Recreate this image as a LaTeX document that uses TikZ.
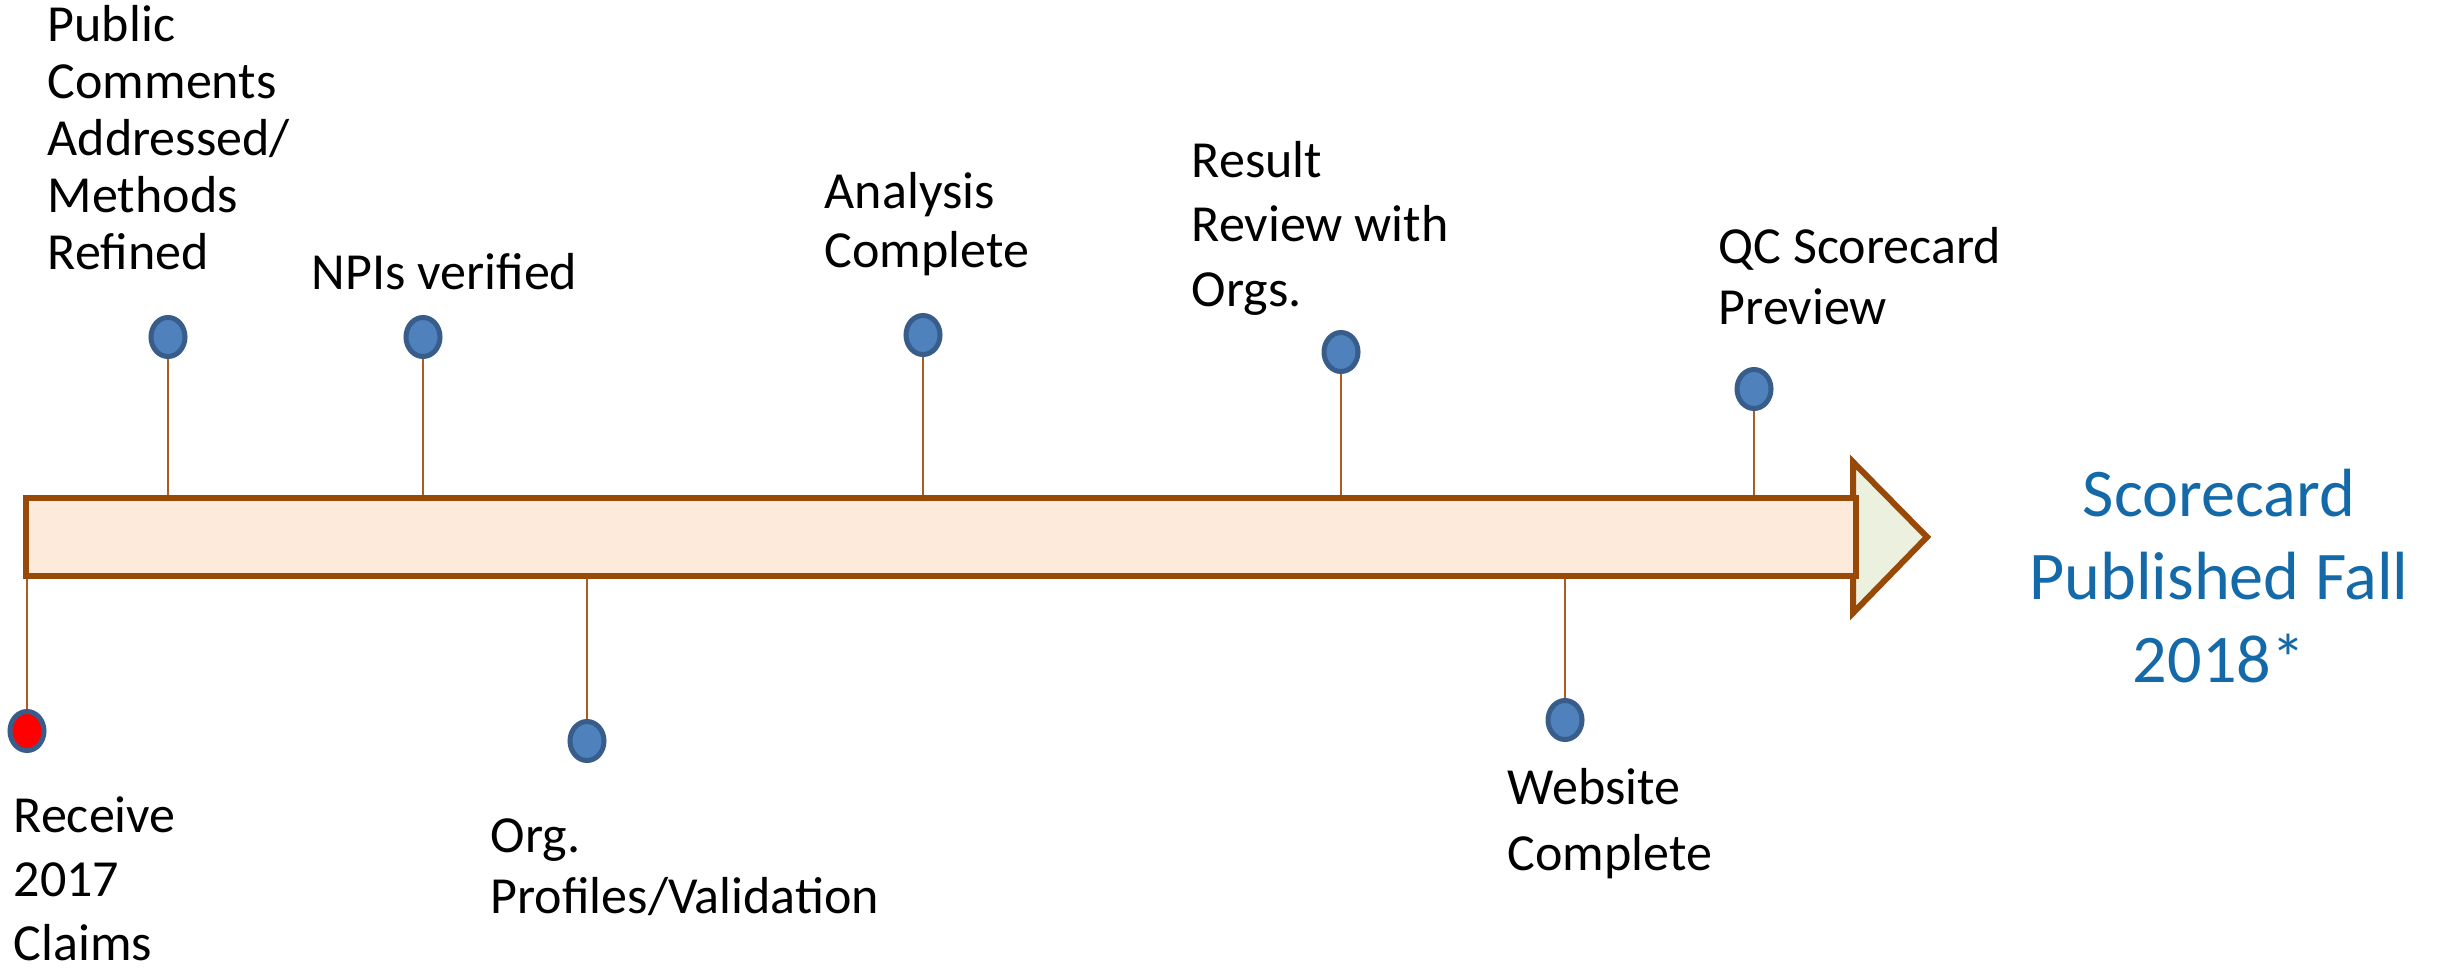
\documentclass[tikz,border=0pt]{standalone}
\usepackage{fontspec}
\setmainfont{Carlito}
\usetikzlibrary{shapes.geometric, calc}

\definecolor{barbrown}{RGB}{152,72,7}
\definecolor{stembrown}{RGB}{172,92,32}
\definecolor{barfill}{RGB}{253,234,218}
\definecolor{headfill}{RGB}{235,241,222}
\definecolor{dotfill}{RGB}{79,129,189}
\definecolor{dotline}{RGB}{56,93,138}
\definecolor{pubblue}{RGB}{20,106,168}

\begin{document}
\begin{tikzpicture}[x=0.01cm, y=-0.01cm,
	dot/.style={ellipse, draw=dotline, fill=dotfill, line width=0.05cm,
		minimum width=0.34cm, minimum height=0.39cm, inner sep=0pt},
	stem/.style={draw=stembrown, line width=0.02cm},
	lbl/.style={anchor=base west, align=left, inner sep=0pt,
		font=\fontsize{14.8}{#1}\selectfont},
	lbl/.default=17.3pt,
	timebar/.style={rectangle, draw=barbrown, fill=barfill, line width=0.06cm,
		minimum width=18.28cm, minimum height=0.77cm, inner sep=0pt}]
	\useasboundingbox (0,0) rectangle (2440,970);

	% arrow head, then the bar over it
	\coordinate (H1) at (1853,462);
	\coordinate (H2) at (1927,537);
	\coordinate (H3) at (1853,613);
	\draw[barbrown, fill=headfill, line width=0.06cm] (H1) -- (H2) -- (H3) -- cycle;
	\node[timebar] (bar) at (941,537) {};

	% milestones above the bar
	\node[dot] (pc) at (168,337) {};
	\node[dot] (npi) at (423,337) {};
	\node[dot] (ana) at (923,335) {};
	\node[dot] (res) at (1341,352) {};
	\node[dot] (qc) at (1754,389) {};
	\foreach \d in {pc, npi, ana, res, qc}
		\draw[stem] (\d.south) -- (\d.south |- bar.north);

	% milestones below the bar
	\node[dot, fill=red] (rc) at (27,731) {};
	\node[dot] (org) at (587,741) {};
	\node[dot] (web) at (1565,720) {};
	\foreach \d in {rc, org, web}
		\draw[stem] (\d.north) -- (\d.north |- bar.south);

	% labels (base = last line)
	\node[lbl=16.2pt] (pcl) at (47,269) {Public\\Comments\\Addressed/\\Methods\\Refined};
	\node[lbl] (npil) at (311,289) {NPIs verified};
	\node[lbl=16.8pt] (anal) at (824,268) {Analysis\\Complete};
	\node[lbl=18.2pt] (resl) at (1191,306) {Result\\Review with\\Orgs.};
	\node[lbl] (qcl) at (1718,324) {QC Scorecard\\Preview};
	\node[lbl=18.2pt] (rcl) at (13,960) {Receive\\2017\\Claims};
	\node[lbl=17.1pt] (orgl) at (490,913) {Org.\\Profiles/Validation};
	\node[lbl=18.5pt] (webl) at (1507,870) {Website\\Complete};

	\node[anchor=base, align=center, inner sep=0pt, text=pubblue,
		font=\fontsize{19.4}{23.6}\selectfont] (pub) at (2219,682)
		{Scorecard\\Published Fall\\2018*};
\end{tikzpicture}
\end{document}
